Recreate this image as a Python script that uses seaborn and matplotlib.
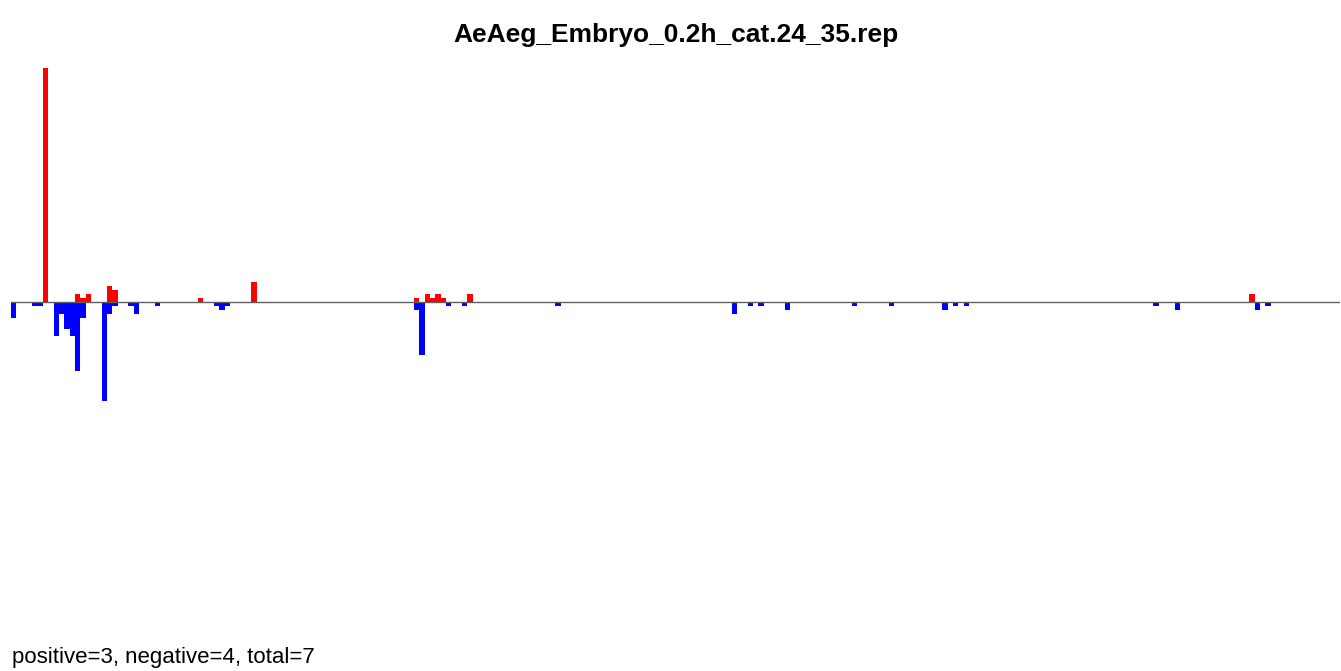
import numpy as np
import pandas as pd
import matplotlib
matplotlib.use("Agg")
import matplotlib.pyplot as plt
import seaborn as sns

# bin positions and values
pos_bins = [6, 12, 13, 14, 18, 19, 35, 45, 75.5, 77.5, 78.5, 79.5, 80.5, 85.5, 232]
pos_vals = [58.6, 2, 1, 2, 4, 3, 1, 5, 1, 2, 1, 2, 1, 2, 2]

neg_bins = [0, 4, 5, 8, 9, 10, 11, 12, 13, 17, 18, 19, 22, 23, 27, 38, 39, 40,
            75.5, 76.5, 81.5, 84.5, 102, 135, 138, 140, 145, 157.5, 164.5,
            174.5, 176.5, 178.5, 214, 218, 233, 235]
neg_vals = [-4, -1, -1, -8.5, -3, -6.7, -8.5, -17.2, -4, -24.7, -3, -1, -1, -3, -1, -1, -2, -1,
            -2, -13.2, -1, -1, -1, -3, -1, -1, -2, -1, -1,
            -2, -1, -1, -1, -2, -2, -1]

n_bins = 249
title = "AeAeg_Embryo_0.2h_cat.24_35.rep"
footer = "positive=3, negative=4, total=7"

df = pd.concat([
    pd.DataFrame({"bin": pos_bins, "value": pos_vals, "sign": "positive"}),
    pd.DataFrame({"bin": neg_bins, "value": neg_vals, "sign": "negative"}),
], ignore_index=True)

sns.set_style("white")
plt.rcParams['font.family'] = ['Liberation Sans', 'DejaVu Sans']
plt.rcParams['text.color'] = 'black'

fig = plt.figure(figsize=(13.41, 6.71), dpi=100)
ax = fig.add_axes([0.0082, 0.2006, 0.9911, 0.6987])

# seaborn scales native widths by the smallest gap between positions
step = np.diff(np.unique(df["bin"])).min()
sns.barplot(data=df, x="bin", y="value", hue="sign",
            palette={"positive": "#ff0000", "negative": "#0000ff"},
            native_scale=True, dodge=False, width=1 / step,
            errorbar=None, legend=False, saturation=1, linewidth=0, ax=ax)

ax.axhline(0, color="#5f5f5f", lw=1.0, zorder=5)
ymax = max(pos_vals)
ax.set_ylim(-ymax, ymax)
ax.set_xlim(-0.5, n_bins - 0.5)
ax.set_axis_off()

fig.text(0.504, 0.938, title, ha="center", va="baseline", fontsize=19,
         fontweight="bold", color="black")
fig.text(0.009, 0.0124, footer, ha="left", va="baseline", fontsize=16, color="black")

fig.savefig("out.png", dpi=100)
